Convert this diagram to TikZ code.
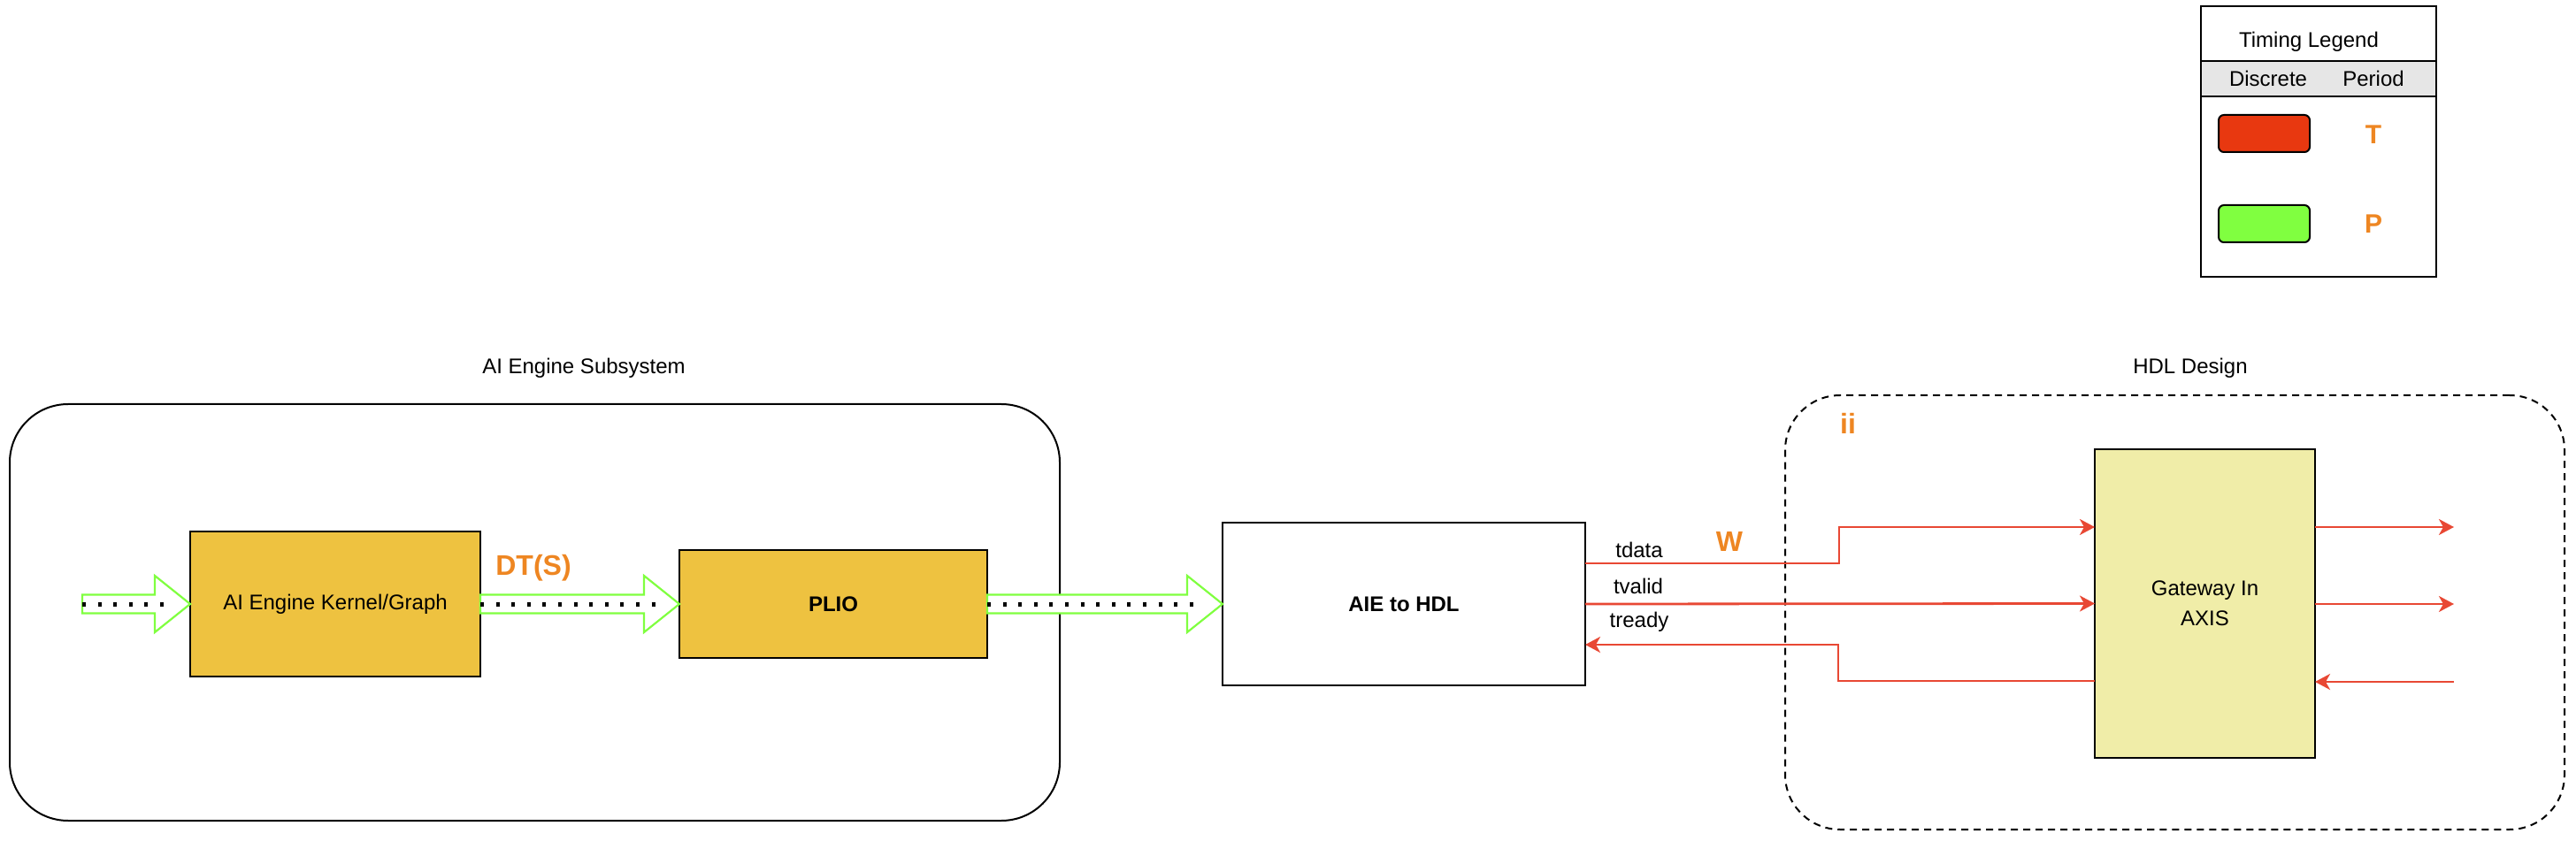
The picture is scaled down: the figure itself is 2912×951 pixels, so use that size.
\documentclass[tikz,border=0pt]{standalone}
\usepackage{fontspec}
\setmainfont{Liberation Sans}
\usetikzlibrary{arrows.meta,calc}
\definecolor{boxgold}{RGB}{238,194,64}
\definecolor{gwfill}{RGB}{240,237,168}
\definecolor{flexgreen}{RGB}{128,255,64}
\definecolor{sigred}{RGB}{232,72,52}
\definecolor{lblorange}{RGB}{238,134,34}
\definecolor{legred}{RGB}{232,56,16}
\definecolor{legband}{RGB}{230,230,230}
\newcommand\mysz{\fontsize{12}{14}\selectfont}
\newcommand\bigsz{\fontsize{16}{19}\selectfont\bfseries}
\newcommand\flexarr[2]{%
  \draw[flexout] ($(#1)+(0,-10.5)$) -- ($(#2)+(-40,-10.5)$) -- ($(#2)+(-40,-32)$) -- (#2)
     -- ($(#2)+(-40,32)$) -- ($(#2)+(-40,10.5)$) -- ($(#1)+(0,10.5)$) -- cycle;
  \draw[dotline] (#1) -- ($(#2)+(-22,0)$);
}
\begin{document}
\begin{tikzpicture}[x=0.5pt,y=-0.5pt,
  blk/.style={draw=black, line width=1.3pt, fill=boxgold, inner sep=0pt, outer sep=0pt, align=center, font=\mysz},
  plainbox/.style={draw=black, line width=1.3pt, fill=white, inner sep=0pt, outer sep=0pt, align=center, font=\mysz\bfseries},
  gwbox/.style={draw=black, line width=1.3pt, fill=gwfill, inner sep=0pt, outer sep=0pt, align=center, font=\mysz},
  groupbox/.style={draw=black, line width=1pt, rounded corners=33pt, inner sep=0pt, outer sep=0pt},
  lbl/.style={font=\mysz, inner sep=0pt},
  olbl/.style={font=\bigsz, text=lblorange, inner sep=0pt},
  flexout/.style={draw=flexgreen, line width=1.1pt, fill=white},
  dotline/.style={draw=black, line width=2.5pt, dash pattern=on 2pt off 6.8pt},
  sig/.style={draw=sigred, line width=1.4pt},
  sigarr/.style={sig, -{Stealth[length=8.5pt,width=9pt,inset=2.5pt]}},
  swatch/.style={draw=black, line width=1pt, rounded corners=3pt, minimum width=51.5pt, minimum height=21pt, inner sep=0pt}
]
\useasboundingbox (0,0) rectangle (2912,951);

% group boxes
\node[groupbox, minimum width=593.5pt, minimum height=235.5pt] (sub) at (604.5,692.5) {};
\node[groupbox, dashed, dash pattern=on 4pt off 3pt, rounded corners=31pt, minimum width=440.5pt, minimum height=245.5pt] (hdl) at (2458.5,692.5) {};
\node[lbl] (sublbl) at (660,416) {AI Engine Subsystem};
\node[lbl] (hdllbl) at (2476,416) {HDL Design};

% blocks
\node[blk, minimum width=164pt, minimum height=82pt] (kernel) at (379,683) {AI Engine Kernel/Graph};
\node[blk, minimum width=174pt, minimum height=61pt, font=\mysz\bfseries] (plio) at (942,683) {PLIO};
\node[plainbox, minimum width=205pt, minimum height=92pt] (aie) at (1587,683) {AIE to HDL};
\node[gwbox, minimum width=124.5pt, minimum height=174.5pt] (gw) at (2492.5,682.5) {Gateway In\\[3pt]AXIS};

% flex arrows
\coordinate (src) at (93,683);
\flexarr{src}{kernel.west}
\flexarr{kernel.east}{plio.west}
\flexarr{plio.east}{aie.west}

\node[olbl] (dts) at (603,642) {DT(S)};
\node[olbl] (w) at (1955,612) {W};
\node[olbl] (ii) at (2089,479) {ii};

% signals
\draw[sigarr] ($(aie.east)+(0,-46)$) -- ++(287,0) |- ($(gw.west)+(0,-86.5)$);
\draw[sigarr] (aie.east) -- (gw.west);
\draw[sigarr] ($(gw.west)+(0,87.5)$) -- ++(-290,0) |- ($(aie.east)+(0,46)$);
\node[lbl] (tdata) at (1853,622) {tdata};
\node[lbl] (tvalid) at (1852,663) {tvalid};
\node[lbl] (tready) at (1853,703) {tready};

\coordinate (o1) at (2774,596);
\coordinate (o2) at (2774,683);
\coordinate (o3) at (2774,771);
\draw[sigarr] (gw.east |- o1) -- (o1);
\draw[sigarr] (gw.east |- o2) -- (o2);
\draw[sigarr] (o3) -- (gw.east |- o3);

% legend
\node[draw=black, line width=1.2pt, minimum width=133pt, minimum height=153pt, inner sep=0pt, outer sep=0pt] (legend) at (2621,160) {};
\draw[line width=1.2pt, fill=legband] (2488,69) rectangle (2754,109);
\node[lbl] (legtitle) at (2610,47) {Timing Legend};
\node[lbl] (legd) at (2564,89) {Discrete};
\node[lbl] (legp) at (2683,89) {Period};
\node[swatch, fill=legred] (swr) at (2559.5,151) {};
\node[swatch, fill=flexgreen] (swg) at (2559.5,253) {};
\node[olbl, font=\fontsize{15}{18}\selectfont\bfseries] (legT) at (2683,152) {T};
\node[olbl, font=\fontsize{15}{18}\selectfont\bfseries] (legP) at (2683,253) {P};
\end{tikzpicture}
\end{document}
